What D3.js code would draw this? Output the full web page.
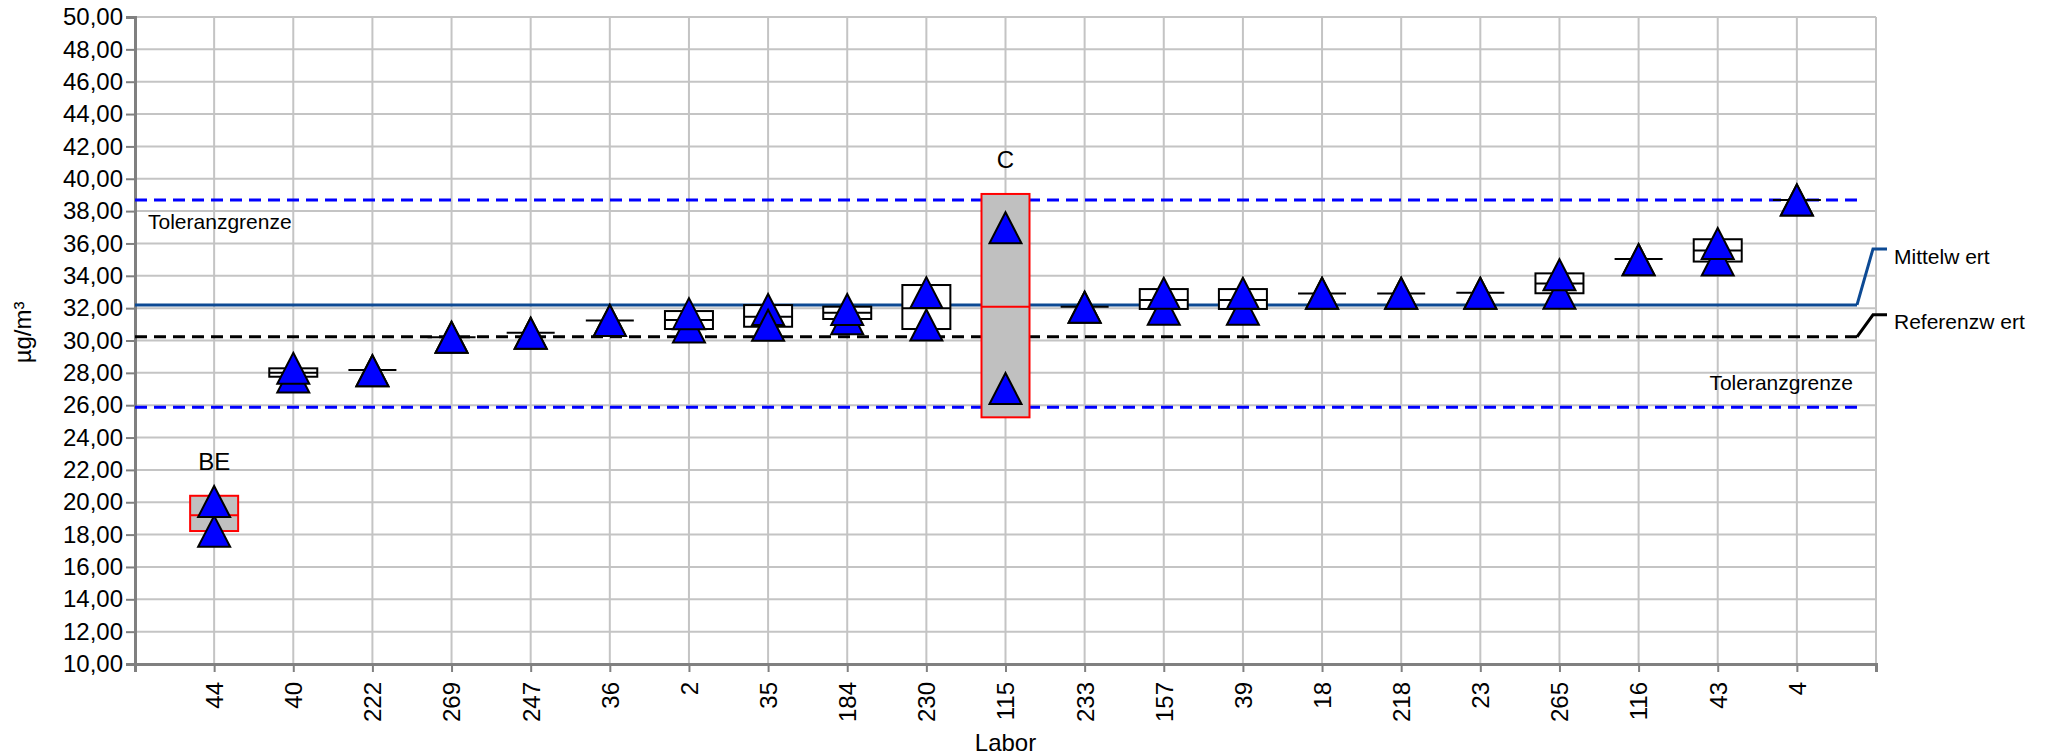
<!DOCTYPE html>
<html>
<head>
<meta charset="utf-8">
<script src="https://cdn.jsdelivr.net/npm/d3@7"></script>
<style>
  body { margin: 0; background: #fff; }
  svg text { font-family: Arial, "Liberation Sans", sans-serif; fill: #000; }
</style>
</head>
<body>
<svg id="chart" width="2054" height="756"></svg>
<script>
// Laboratories in plotting order
const labore = ["44", "40", "222", "269", "247", "36", "2", "35", "184", "230", "115",
                "233", "157", "39", "18", "218", "23", "265", "116", "43", "4"];
// Single results (µg/m³); the second one is drawn on top of the first
const messung1 = [18.20, 27.74, 28.13, 30.20, 30.45, 31.24, 30.83, 31.92, 31.34, 30.96, 27.03,
                  32.06, 31.93, 31.93, 32.92, 32.92, 32.92, 32.92, 34.99, 34.98, 38.69];
const messung2 = [20.05, 28.28, 28.13, 30.20, 30.45, 31.24, 31.66, 30.94, 31.92, 32.96, 36.97,
                  32.06, 32.92, 32.92, 32.92, 32.92, 32.92, 34.07, 34.99, 36.00, 38.69];
// Box per laboratory: lower edge, upper edge, lab mean
const boxUnten = [18.22, 27.76, 28.18, 30.20, 30.48, 31.23, 30.71, 30.85, 31.33, 30.71, 25.25,
                  32.08, 31.95, 31.95, 32.91, 32.91, 32.95, 32.92, 35.04, 34.88, 38.69];
const boxOben  = [20.40, 28.28, 28.18, 30.20, 30.48, 31.23, 31.82, 32.19, 32.09, 33.43, 39.06,
                  32.08, 33.18, 33.18, 32.91, 32.91, 32.95, 34.15, 35.04, 36.26, 38.69];
const labMittel = [19.19, 28.01, 28.18, 30.20, 30.48, 31.23, 31.27, 31.47, 31.72, 32.00, 32.09,
                   32.08, 32.50, 32.50, 32.91, 32.91, 32.95, 33.53, 35.04, 35.56, 38.69];
// Outlier codes
const kennung = ["BE", "", "", "", "", "", "", "", "", "", "C",
                 "", "", "", "", "", "", "", "", "", ""];
// Assigned values
const mittelwert = 32.20;
const referenzwert = 30.23;
const toleranzOben = 38.69;
const toleranzUnten = 25.88;
// Y axis ticks
const yTicks = [10, 12, 14, 16, 18, 20, 22, 24, 26, 28, 30, 32, 34, 36, 38, 40, 42, 44, 46, 48, 50];

const svg = d3.select("#chart");
const plotL = 135, plotR = 1876, plotT = 17, plotB = 664;
const lineEnd = 1857;

const x = d3.scalePoint().domain(labore).range([plotL, plotR]).padding(1);
const y = d3.scaleLinear().domain([10, 50]).range([plotB, plotT]);

const rows = labore.map((lab, i) => ({
  lab, m1: messung1[i], m2: messung2[i], lo: boxUnten[i], hi: boxOben[i],
  mid: labMittel[i], code: kennung[i]
}));

// Grid
const grid = svg.append("g").attr("stroke", "#c4c4c4").attr("stroke-width", 2);
grid.selectAll("line.h").data(yTicks).join("line").attr("class", "h")
  .attr("x1", plotL).attr("x2", plotR).attr("y1", d => y(d)).attr("y2", d => y(d));
grid.selectAll("line.v").data(labore).join("line").attr("class", "v")
  .attr("x1", d => x(d)).attr("x2", d => x(d)).attr("y1", plotT).attr("y2", plotB);
grid.append("line").attr("x1", plotR).attr("x2", plotR).attr("y1", plotT).attr("y2", plotB);

// Axes
const fmt = d => d3.format(".2f")(d).replace(".", ",");
const yAxis = svg.append("g").attr("transform", `translate(${plotL},0)`)
  .call(d3.axisLeft(y).tickValues(yTicks).tickFormat(fmt).tickSize(9).tickPadding(3));
yAxis.selectAll("text").attr("font-size", 24).attr("font-family", "Arial, 'Liberation Sans', sans-serif");

const xAxis = svg.append("g").attr("transform", `translate(0,${plotB})`)
  .call(d3.axisBottom(x).tickSize(8).tickPadding(0));
xAxis.selectAll("text")
  .attr("font-size", 24).attr("font-family", "Arial, 'Liberation Sans', sans-serif")
  .attr("transform", "rotate(-90)")
  .attr("text-anchor", "end")
  .attr("x", -18).attr("y", 0).attr("dy", "0.35em");
[yAxis, xAxis].forEach(a => {
  a.select(".domain").attr("stroke", "#808080").attr("stroke-width", 3);
  a.selectAll(".tick line").attr("stroke", "#808080").attr("stroke-width", 2);
});

// Assigned value and tolerance lines
const refs = svg.append("g").attr("fill", "none");
refs.append("line").attr("x1", plotL).attr("x2", lineEnd)
  .attr("y1", y(toleranzOben)).attr("y2", y(toleranzOben))
  .attr("stroke", "#0000ff").attr("stroke-width", 3).attr("stroke-dasharray", "12,7");
refs.append("line").attr("x1", plotL).attr("x2", lineEnd)
  .attr("y1", y(toleranzUnten)).attr("y2", y(toleranzUnten))
  .attr("stroke", "#0000ff").attr("stroke-width", 3).attr("stroke-dasharray", "12,7");
refs.append("line").attr("x1", plotL).attr("x2", lineEnd)
  .attr("y1", y(referenzwert)).attr("y2", y(referenzwert))
  .attr("stroke", "#000").attr("stroke-width", 3).attr("stroke-dasharray", "12,7");
refs.append("line").attr("x1", plotL).attr("x2", lineEnd)
  .attr("y1", y(mittelwert)).attr("y2", y(mittelwert))
  .attr("stroke", "#0d4a94").attr("stroke-width", 3);

// Leader lines and labels on the right
const ym = y(mittelwert), yr = y(referenzwert);
refs.append("path").attr("d", `M${lineEnd},${ym} L${lineEnd + 16},${ym - 56} L${lineEnd + 30},${ym - 56}`)
  .attr("stroke", "#0d4a94").attr("stroke-width", 3);
refs.append("path").attr("d", `M${lineEnd},${yr} L${lineEnd + 16},${yr - 22} L${lineEnd + 30},${yr - 22}`)
  .attr("stroke", "#000").attr("stroke-width", 3);
svg.append("text").attr("x", lineEnd + 37).attr("y", ym - 56).attr("dy", "0.7em")
  .attr("font-size", 21).text("Mittelw ert");
svg.append("text").attr("x", lineEnd + 37).attr("y", yr - 22).attr("dy", "0.7em")
  .attr("font-size", 21).text("Referenzw ert");
svg.append("text").attr("x", 148).attr("y", y(toleranzOben) + 29)
  .attr("font-size", 21).text("Toleranzgrenze");
svg.append("text").attr("x", 1853).attr("y", y(toleranzUnten) - 17).attr("text-anchor", "end")
  .attr("font-size", 21).text("Toleranzgrenze");

// Lab boxes
const boxW = 48;
const boxes = svg.append("g").selectAll("g").data(rows).join("g");
boxes.append("rect")
  .attr("x", d => x(d.lab) - boxW / 2).attr("width", boxW)
  .attr("y", d => y(d.hi)).attr("height", d => y(d.lo) - y(d.hi))
  .attr("fill", d => d.code ? "#c0c0c0" : "#fff")
  .attr("stroke", d => d.code ? "#ff0000" : "#000").attr("stroke-width", 2);
boxes.append("line")
  .attr("x1", d => x(d.lab) - boxW / 2).attr("x2", d => x(d.lab) + boxW / 2)
  .attr("y1", d => y(d.mid)).attr("y2", d => y(d.mid))
  .attr("stroke", d => d.code ? "#ff0000" : "#000").attr("stroke-width", 2);

// Single results as triangles
const tri = "M0,-15.5L16,15.5L-16,15.5Z";
const marks = svg.append("g");
["m1", "m2"].forEach(k => {
  marks.selectAll(`path.${k}`).data(rows).join("path").attr("class", k)
    .attr("d", tri)
    .attr("transform", d => `translate(${x(d.lab)},${y(d[k])})`)
    .attr("fill", "#0000ff").attr("stroke", "#000").attr("stroke-width", 2)
    .attr("stroke-linejoin", "miter");
});

// Outlier codes above the boxes
svg.append("g").selectAll("text").data(rows.filter(d => d.code)).join("text")
  .attr("x", d => x(d.lab)).attr("y", d => y(d.hi) - 26)
  .attr("text-anchor", "middle").attr("font-size", 24).text(d => d.code);

// Axis titles
svg.append("text").attr("x", x("115")).attr("y", 751).attr("text-anchor", "middle")
  .attr("font-size", 24).text("Labor");
svg.append("text").attr("transform", `translate(31,${y(30.5)}) rotate(-90)`)
  .attr("text-anchor", "middle").attr("font-size", 24).text("µg/m³");
</script>
</body>
</html>
